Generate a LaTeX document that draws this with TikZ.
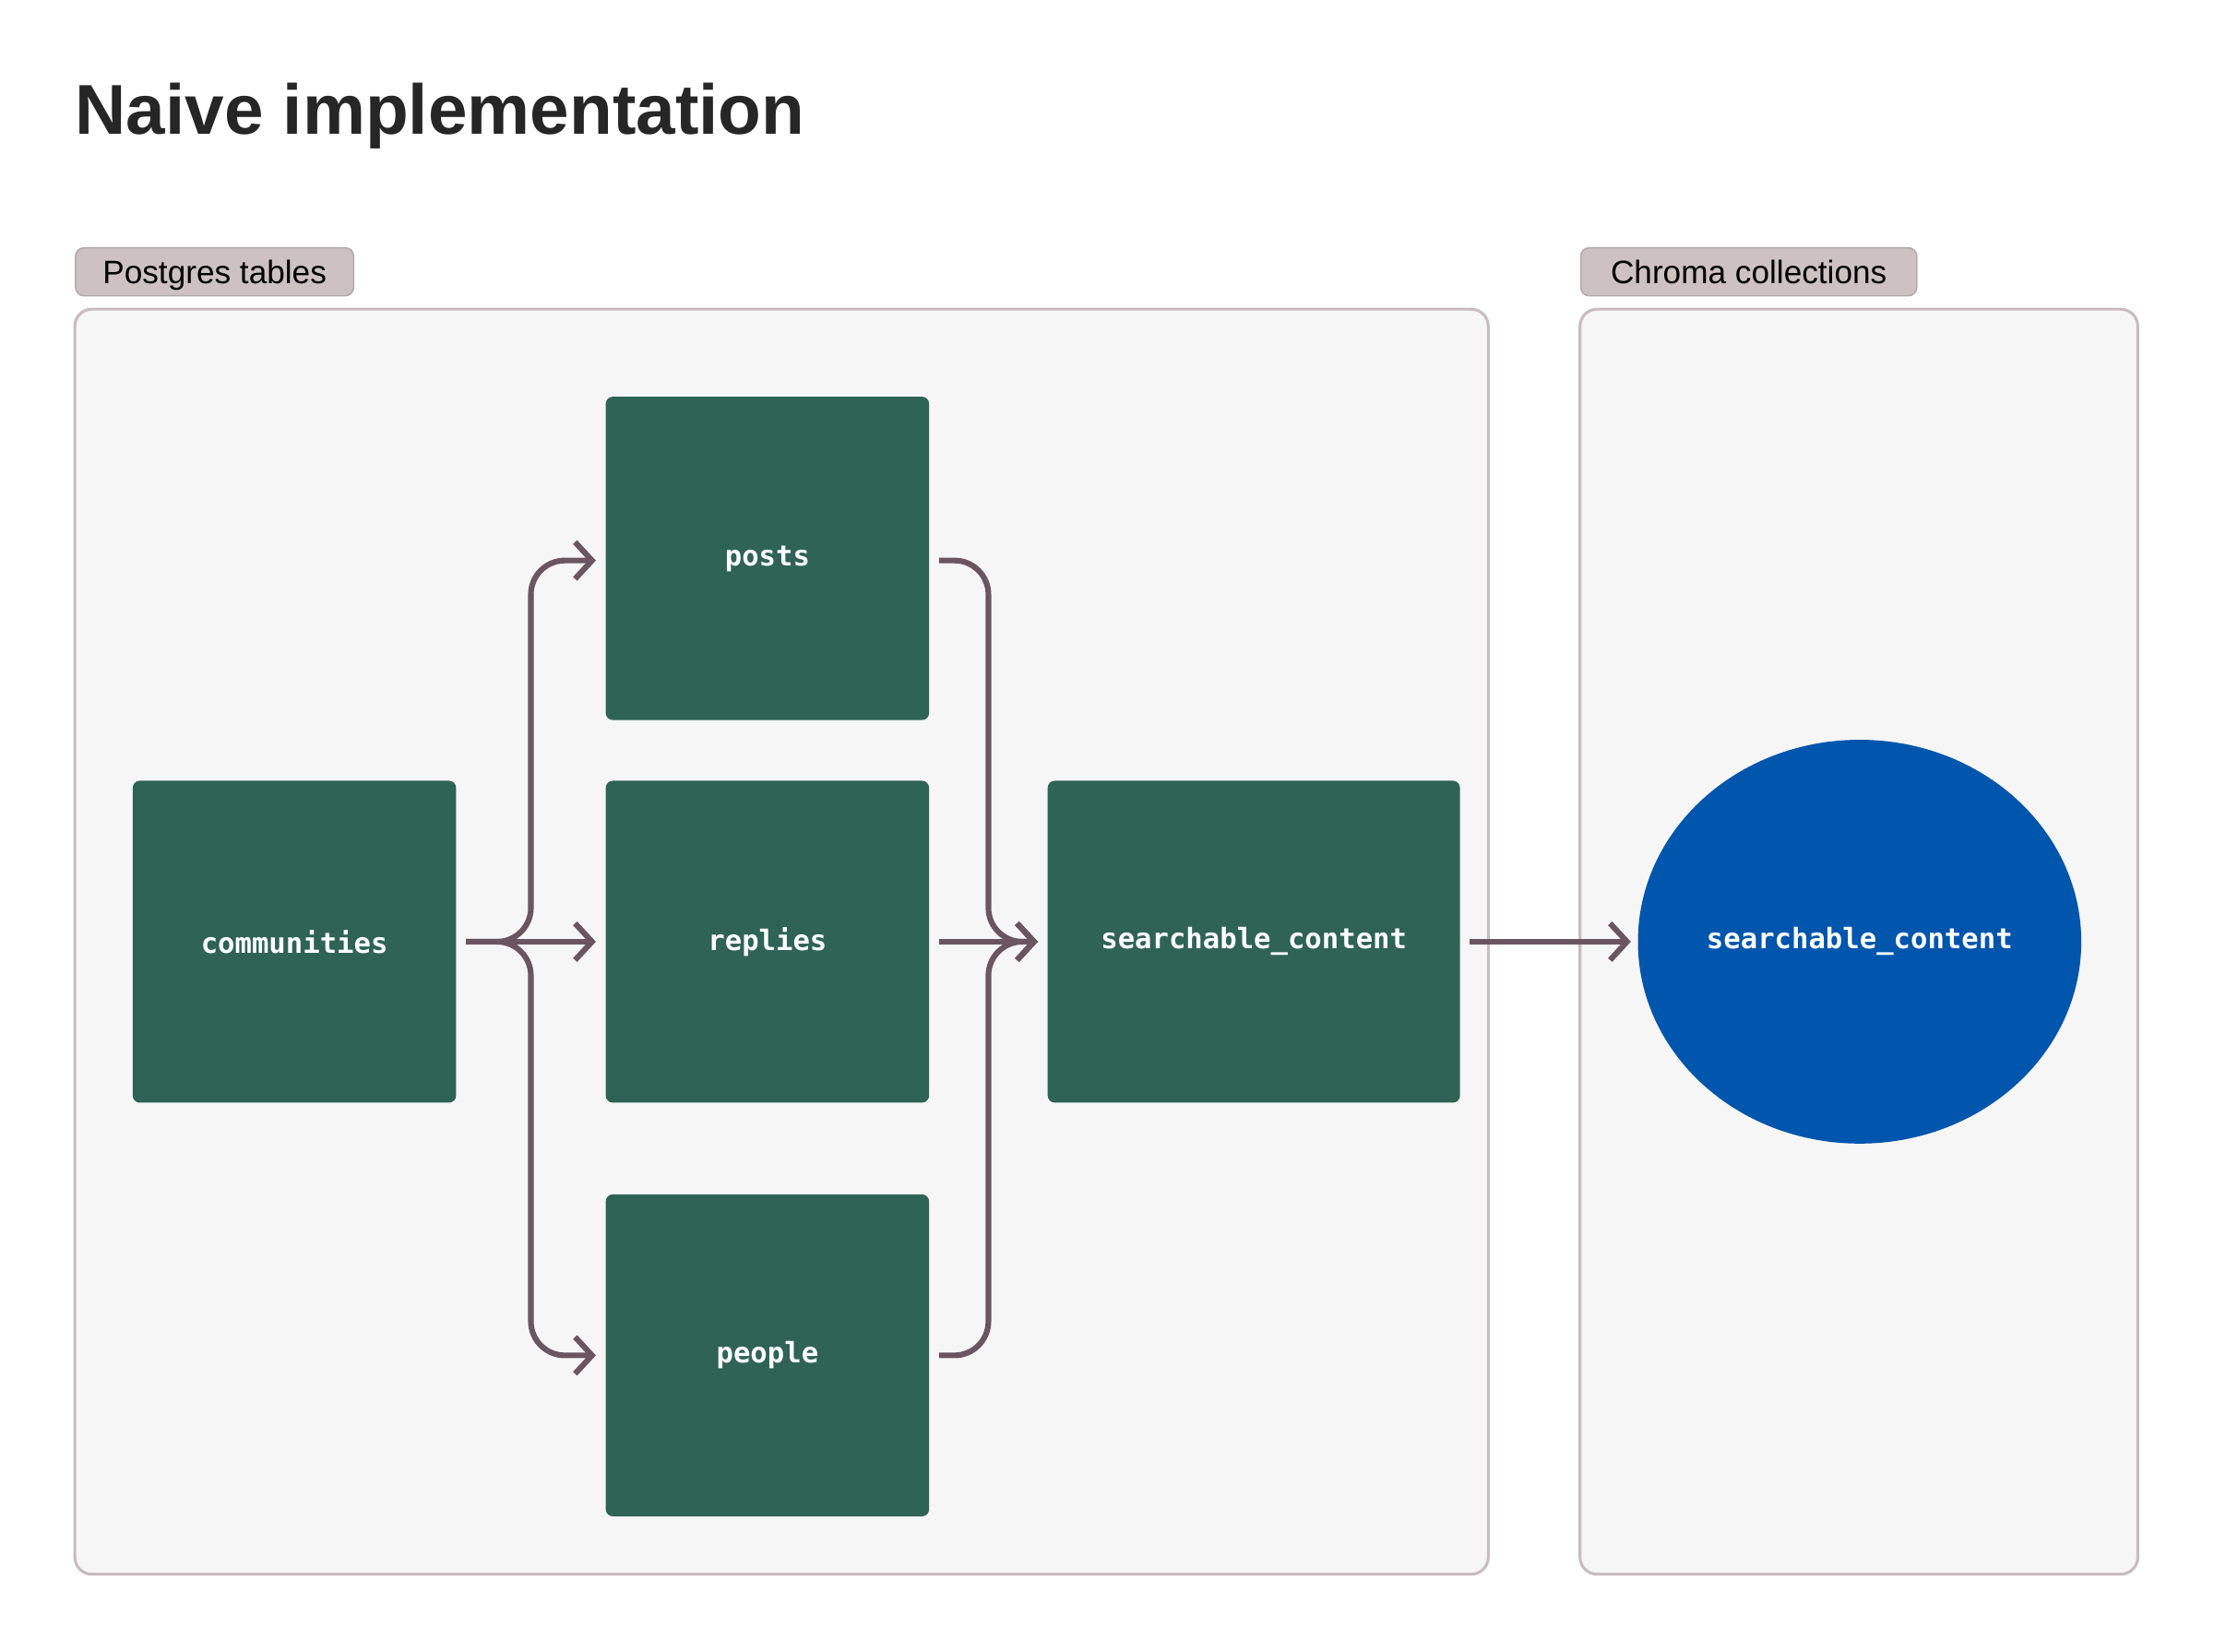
\documentclass[tikz,border=0pt]{standalone}
\usepackage{fontspec}
\setmainfont{Liberation Sans}
\newfontfamily\monof{DejaVu Sans Mono}
\usetikzlibrary{arrows.meta}
\definecolor{grn}{HTML}{2E6355}
\definecolor{blu}{HTML}{0055AD}
\definecolor{arr}{HTML}{6A5560}
\definecolor{bord}{HTML}{C8BCBF}
\definecolor{tagf}{HTML}{CDC1C1}
\definecolor{cont}{HTML}{F6F6F6}
\begin{document}
\begin{tikzpicture}[x=1pt,y=-1pt,
  box/.style={fill=grn,rounded corners=5,text=white,font=\monof\bfseries\fontsize{20}{24}\selectfont},
  cnt/.style={fill=cont,draw=bord,line width=2,rounded corners=12},
  tag/.style={fill=tagf,draw=bord!70!gray,line width=1,rounded corners=6,font=\fontsize{23}{27}\selectfont,anchor=north west,inner sep=0,minimum height=34,text depth=0},
  ar/.style={draw=arr,line width=4,-{Straight Barb[length=12,width=26,line width=4]},rounded corners=24}]
\useasboundingbox (0,0) rectangle (1568,1170);
\fill[white] (0,0) rectangle (1568,1170);
\node[anchor=base west,inner sep=0,font=\bfseries\fontsize{50}{60}\selectfont,text=black!85] (title) at (53,95) {Naive implementation};
\draw[cnt] (53,219) rectangle (1054,1115);
\draw[cnt] (1119,219) rectangle (1514,1115);
\node[tag,minimum width=197] (t1) at (53,175) {Postgres tables};
\node[tag,minimum width=238] (t2) at (1119,175) {Chroma collections};
\path[box] (94,553) rectangle (323,781);
\node[text=white,font=\monof\bfseries\fontsize{20}{24}\selectfont] (c) at (208.5,667) {communities};
\path[box] (429,281) rectangle (658,510);
\node[text=white,font=\monof\bfseries\fontsize{20}{24}\selectfont] (p) at (543.5,396) {posts};
\path[box] (429,553) rectangle (658,781);
\node[text=white,font=\monof\bfseries\fontsize{20}{24}\selectfont] (r) at (543.5,667) {replies};
\path[box] (429,846) rectangle (658,1074);
\node[text=white,font=\monof\bfseries\fontsize{20}{24}\selectfont] (pe) at (543.5,960) {people};
\path[box] (742,553) rectangle (1034,781);
\node[text=white,font=\monof\bfseries\fontsize{20}{24}\selectfont] (s) at (888,667) {searchable\_content};
\fill[blu] (1317,667) ellipse [x radius=157,y radius=143];
\node[text=white,font=\monof\bfseries\fontsize{20}{24}\selectfont] (e) at (1317,667) {searchable\_content};
\coordinate (cO) at (330,667);
\coordinate (pI) at (422,397);
\coordinate (rI) at (422,667);
\coordinate (peI) at (422,960);
\coordinate (pO) at (665,397);
\coordinate (rO) at (665,667);
\coordinate (peO) at (665,960);
\coordinate (sI) at (735,667);
\coordinate (sO) at (1041,667);
\coordinate (eI) at (1155,667);
\path[ar] (cO) -| (376,397) -- (pI);
\path[ar] (cO) -| (376,960) -- (peI);
\path[ar] (cO) -- (rI);
\path[ar] (pO) -| (700,667) -- (sI);
\path[ar] (peO) -| (700,667) -- (sI);
\path[ar] (rO) -- (sI);
\path[ar] (sO) -- (eI);
\end{tikzpicture}
\end{document}
